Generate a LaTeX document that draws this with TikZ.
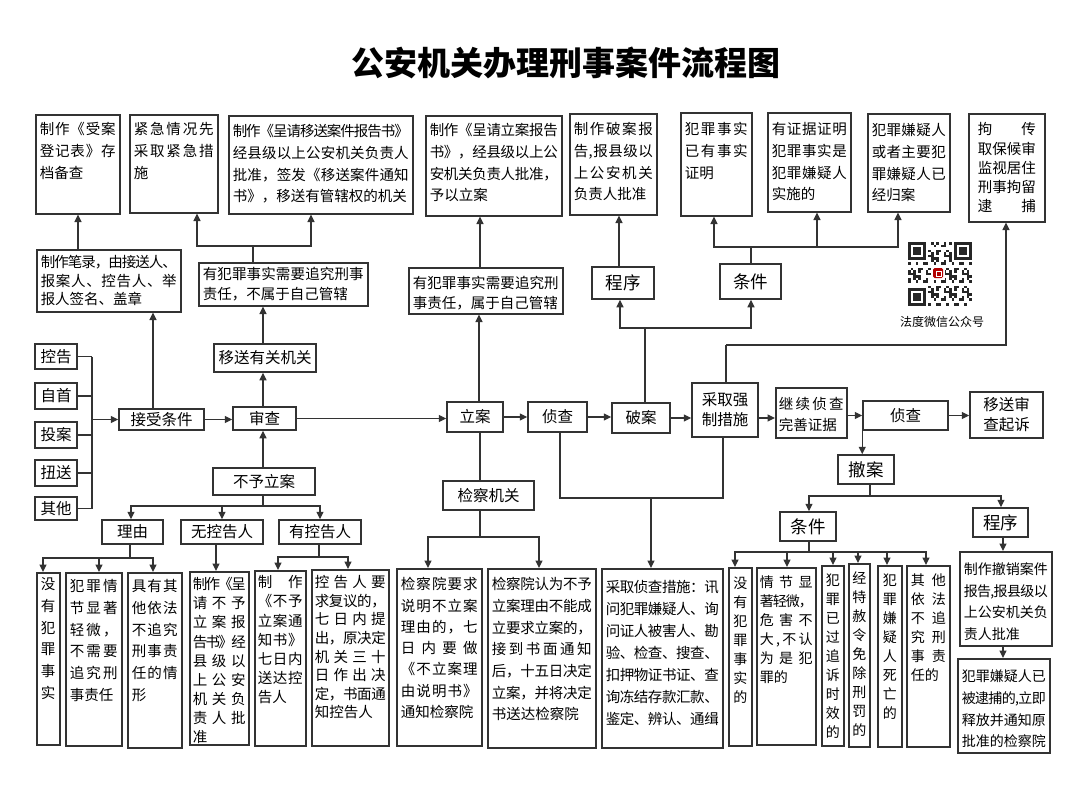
\documentclass[tikz,border=0pt]{standalone}
\usepackage{fontspec}
\setmainfont{Noto Sans CJK SC}
\usetikzlibrary{arrows.meta,calc}
\ExplSyntaxOn
\NewDocumentCommand \jl { m }
  {
    \mode_leave_vertical:
    \hbox_to_wd:nn { \linewidth }
      {
        \bool_set_true:N \l_tmpa_bool
        \tl_map_inline:nn { #1 }
          {
            \bool_if:NTF \l_tmpa_bool
              { \bool_set_false:N \l_tmpa_bool }
              { \skip_horizontal:n { 0pt plus 1fil minus 3pt } }
            ##1
          }
      }
  }
\ExplSyntaxOff
\def\tbpx{4}
\def\tbfb{20}
\newcommand\tb[7][]{%
  \pgfmathsetmacro\tbW{#5-#3}%
  \pgfmathsetmacro\tbH{#6-#4}%
  \pgfmathsetmacro\tbTW{\tbW-2*\tbpx}%
  \pgfmathsetmacro\tbTD{\tbH-\tbfb}%
  \node[tbox,minimum width=\tbW pt,minimum height=\tbH pt,text width=\tbTW pt,text height=\tbfb pt,text depth=\tbTD pt,#1] (#2) at (#3,#4) {#7};}
\newcommand\lb[7][]{%
  \pgfmathsetmacro\tbW{#5-#3}%
  \pgfmathsetmacro\tbH{#6-#4}%
  \node[lbox,minimum width=\tbW pt,minimum height=\tbH pt,#1] (#2) at ({(#3+#5)/2},{(#4+#6)/2}) {#7};}
\tikzset{
  bx/.style={draw=black!80,line width=1.5pt,inner sep=0pt},
  tbox/.style={bx,anchor=north west,align=left,font=\fontsize{14.5}{21.7}\selectfont},
  lbox/.style={bx,anchor=center,align=center,font=\fontsize{15.5}{20}\selectfont},
  big/.style={font=\fontsize{17.5}{20}\selectfont},
  narrow/.style={font=\fontsize{14}{19}\selectfont},
  ln/.style={draw=black!80,line width=1.2pt},
  arr/.style={ln,-{Triangle[length=7.5pt,width=7pt]}},
}
\begin{document}
\begin{tikzpicture}[x=1pt,y=-1pt]
\useasboundingbox[fill=white] (0,0) rectangle (1080,796);
\node[font=\bfseries\fontsize{33}{33}\selectfont] (title) at (566,63) {公安机关办理刑事案件流程图};
% ---------- top row ----------
\def\tbpx{4}\def\tbfb{20}
\tb{A}{35}{114}{119}{213}{\jl{制作《受案}\\\jl{登记表》存}\\档备查}
\tb{B}{129}{114}{217}{212}{\jl{紧急情况先}\\\jl{采取紧急措}\\施}
\def\tbfb{21}
\tb{C}{228}{115}{412}{213}{\jl{制作《呈请移送案件报告书》}\\\jl{经县级以上公安机关负责人}\\\jl{批准，签发《移送案件通知}\\书》，移送有管辖权的机关}
\def\tbfb{18}
\tb[font=\fontsize{14.5}{18.5}\selectfont]{D}{36}{249}{180}{311}{\jl{制作笔录，由接送人、}\\\jl{报案人、控告人、举}\\报人签名、盖章}
\def\tbfb{17}
\tb[font=\fontsize{14.5}{19.5}\selectfont]{E}{198}{262}{367}{305}{\jl{有犯罪事实需要追究刑事}\\责任，不属于自己管辖}
\def\tbfb{20}
\tb{F}{425}{115}{561}{215}{\jl{制作《呈请立案报告}\\\jl{书》，经县级以上公}\\\jl{安机关负责人批准，}\\予以立案}
\def\tbfb{21}
\tb{G}{569}{113}{656}{214}{\jl{制作破案报}\\\jl{告,报县级以}\\\jl{上公安机关}\\负责人批准}
\tb[font=\fontsize{14.5}{20}\selectfont]{H}{408}{267}{562}{313}{\jl{有犯罪事实需要追究刑}\\事责任，属于自己管辖}
\def\tbfb{22}
\tb{I}{680}{112}{751}{215}{\jl{犯罪事实}\\\jl{已有事实}\\证明}
\tb{J}{767}{112}{850}{211}{\jl{有证据证明}\\\jl{犯罪事实是}\\\jl{犯罪嫌疑人}\\实施的}
\tb{K}{867}{113}{949}{211}{\jl{犯罪嫌疑人}\\\jl{或者主要犯}\\\jl{罪嫌疑人已}\\经归案}
\def\tbpx{9}\def\tbfb{21}
\tb[font=\fontsize{14.5}{19.3}\selectfont]{L}{968}{113}{1044}{221}{\jl{拘传}\\\jl{取保候审}\\\jl{监视居住}\\\jl{刑事拘留}\\\jl{逮捕}}
\lb[big]{prog1}{592}{267}{654}{299}{程序}
\lb[big]{cond1}{720}{264}{781}{299}{条件}
% QR code
\begin{scope}[shift={(908,242)}]
  \def\qm{2.56}
  \foreach \i in {0,...,24} {
    \foreach \j in {0,...,24} {
      \pgfmathtruncatemacro\qs{(\i<8)*(\j<8)+(\i>16)*(\j<8)+(\i<8)*(\j>16)}
      \pgfmathtruncatemacro\qv{mod(\i*\i*7+\j*\j*3+\i*\j*5+\i*11+\j*13,7)}
      \ifnum\qs=0 \ifnum\qv<3 \fill[black!85] (\i*\qm,\j*\qm) rectangle ++(\qm,\qm); \fi\fi
    }
  }
  \foreach \ox/\oy in {0/0,18/0,0/18} {
    \fill[black!85] (\ox*\qm,\oy*\qm) rectangle ++(7*\qm,7*\qm);
    \fill[white] (\ox*\qm+\qm,\oy*\qm+\qm) rectangle ++(5*\qm,5*\qm);
    \fill[black!85] (\ox*\qm+2*\qm,\oy*\qm+2*\qm) rectangle ++(3*\qm,3*\qm);
  }
  \fill[white] (23,24) rectangle (37,38);
  \fill[red!70!black,rounded corners=1.5] (25,26) rectangle (35,36);
  \draw[white,line width=1pt] (28,29) rectangle (33,34);
\end{scope}
\node[font=\fontsize{12}{14}\selectfont] (qrtext) at (942,322) {法度微信公众号};
% ---------- middle row ----------
\lb{s1}{35}{344}{77}{369}{控告}
\lb{s2}{35}{383}{77}{409}{自首}
\lb{s3}{35}{422}{77}{448}{投案}
\lb{s4}{35}{460}{77}{486}{扭送}
\lb{s5}{35}{497}{77}{520}{其他}
\lb{jieshou}{119}{409}{204}{430}{接受条件}
\lb{shencha}{233}{407}{296}{430}{审查}
\lb{yisong}{214}{344}{316}{372}{移送有关机关}
\lb{buyu}{213}{468}{315}{495}{不予立案}
\lb{lian}{447}{402}{503}{432}{立案}
\lb{jcjg}{443}{481}{534}{510}{检察机关}
\lb{zc1}{528}{402}{587}{432}{侦查}
\lb{poan}{612}{403}{670}{433}{破案}
\lb{qz}{692}{383}{758}{437}{采取强\\制措施}
\def\tbpx{3}\def\tbfb{22}
\tb[font=\fontsize{14.5}{21}\selectfont]{jx}{775}{387}{846}{437}{\jl{继续侦查}\\完善证据}
\lb{zc2}{863}{401}{948}{430}{侦查}
\lb{ys}{970}{392}{1043}{438}{移送审\\查起诉}
\lb[big]{chean}{838}{455}{894}{484}{撤案}
% ---------- bottom row ----------
\lb{ly}{102}{520}{163}{544}{理由}
\lb{wk}{181}{520}{263}{544}{无控告人}
\lb{yk}{279}{520}{361}{544}{有控告人}
\lb[big]{cond2}{780}{512}{836}{541}{条件}
\lb[big]{prog2}{973}{508}{1028}{537}{程序}
\def\tbpx{1}\def\tbfb{17}
\tb[align=center]{b1}{36}{572}{59}{744}{没\\有\\犯\\罪\\事\\实}
\def\tbpx{4}\def\tbfb{19}
\tb{b2}{65}{572}{121}{745}{\jl{犯罪情}\\\jl{节显著}\\\jl{轻微，}\\\jl{不需要}\\\jl{追究刑}\\事责任}
\tb{b3}{127}{572}{181}{747}{\jl{具有其}\\\jl{他依法}\\\jl{不追究}\\\jl{刑事责}\\\jl{任的情}\\形}
\def\tbpx{3}\def\tbfb{18}
\tb[font=\fontsize{14.5}{19.1}\selectfont]{b4}{189}{571}{248}{744}{\jl{制作《呈}\\\jl{请不予}\\\jl{立案报}\\\jl{告书》经}\\\jl{县级以}\\\jl{上公安}\\\jl{机关负}\\\jl{责人批}\\准}
\def\tbfb{17}
\tb[font=\fontsize{14.5}{19.2}\selectfont]{b5}{254}{570}{305}{745}{\jl{制作}\\\jl{《不予}\\\jl{立案通}\\\jl{知书》}\\\jl{七日内}\\\jl{送达控}\\告人}
\def\tbfb{18}
\tb[font=\fontsize{14.5}{18.6}\selectfont]{b6}{311}{569}{388}{745}{\jl{控告人要}\\\jl{求复议的，}\\\jl{七日内提}\\\jl{出，原决定}\\\jl{机关三十}\\\jl{日作出决}\\\jl{定，书面通}\\知控告人}
\def\tbpx{4}\def\tbfb{21}
\tb[font=\fontsize{14.5}{21.3}\selectfont]{b7}{396}{568}{481}{745}{\jl{检察院要求}\\\jl{说明不立案}\\\jl{理由的，七}\\\jl{日内要做}\\\jl{《不立案理}\\\jl{由说明书》}\\通知检察院}
\tb{b8}{487}{568}{595}{747}{\jl{检察院认为不予}\\\jl{立案理由不能成}\\\jl{立要求立案的，}\\\jl{接到书面通知}\\\jl{后，十五日决定}\\\jl{立案，并将决定}\\书送达检察院}
\def\tbfb{24}
\tb[font=\fontsize{14.5}{21.9}\selectfont]{b9}{601}{568}{722}{747}{\jl{采取侦查措施：讯}\\\jl{问犯罪嫌疑人、询}\\\jl{问证人被害人、勘}\\\jl{验、检查、搜查、}\\\jl{扣押物证书证、查}\\\jl{询冻结存款汇款、}\\\jl{鉴定、辨认、通缉}}
\def\tbpx{1}\def\tbfb{21}
\tb[narrow,align=center]{c1}{728}{567}{751}{745}{没\\有\\犯\\罪\\事\\实\\的}
\def\tbpx{3}\def\tbfb{20}
\tb[narrow]{c2}{756}{567}{815}{744}{\jl{情节显}\\\jl{著轻微，}\\\jl{危害不}\\\jl{大,不认}\\\jl{为是犯}\\罪的}
\def\tbpx{1}
\tb[narrow,align=center]{c3}{821}{565}{843}{745}{犯\\罪\\已\\过\\追\\诉\\时\\效\\的}
\tb[narrow,align=center]{c4}{848}{563}{869}{746}{经\\特\\赦\\令\\免\\除\\刑\\罚\\的}
\tb[narrow,align=center]{c5}{877}{565}{901}{746}{犯\\罪\\嫌\\疑\\人\\死\\亡\\的}
\def\tbpx{4}
\tb[narrow]{c6}{906}{565}{949}{746}{\jl{其他}\\\jl{依法}\\\jl{不追}\\\jl{究刑}\\\jl{事责}\\任的}
\def\tbfb{23}
\tb[font=\fontsize{14}{21.5}\selectfont]{c7}{959}{551}{1051}{645}{\jl{制作撤销案件}\\\jl{报告,报县级以}\\\jl{上公安机关负}\\责人批准}
\tb[font=\fontsize{14}{21.7}\selectfont]{c8}{957}{658}{1049}{752}{\jl{犯罪嫌疑人已}\\\jl{被逮捕的,立即}\\\jl{释放并通知原}\\批准的检察院}
% ---------- connectors ----------
\foreach \s in {s1,s2,s3,s4,s5} \draw[ln] (\s.east) -- (\s.east -| 92,0);
\draw[ln] (s1.east -| 92,0) -- (s5.east -| 92,0);
\draw[arr] (jieshou.west -| 92,0) -- (jieshou.west);
\draw[arr] (jieshou.north -| 153,0) -- (D.south -| 153,0);
\draw[arr] (D.north -| 78,0) -- (A.south -| 78,0);
\draw[arr] (jieshou.east) -- (jieshou.east -| shencha.west);
\draw[arr] (shencha.north -| 263,0) -- (yisong.south -| 263,0);
\draw[arr] (yisong.north -| 263,0) -- (E.south -| 263,0);
\coordinate (eb) at (253,246);
\draw[ln] (E.north -| eb) -- (eb);
\draw[arr] (eb) -| (B.south -| 197,0);
\draw[arr] (eb) -| (C.south -| 311,0);
\draw[arr] (buyu.north -| 263,0) -- (shencha.south -| 263,0);
\coordinate (bb) at (263,506);
\draw[ln] (buyu.south -| bb) -- (bb);
\draw[arr] (bb) -| (ly.north -| 131,0);
\draw[arr] (bb) -| (wk.north -| 222,0);
\draw[arr] (bb) -| (yk.north -| 320,0);
\coordinate (lyb) at (130,558);
\draw[ln] (ly.south -| lyb) -- (lyb);
\draw[arr] (lyb) -| (b1.north -| 43,0);
\draw[arr] (lyb) -| (b2.north -| 99,0);
\draw[arr] (lyb) -| (b3.north -| 153,0);
\draw[arr] (wk.south -| 216,0) -- (b4.north -| 216,0);
\coordinate (kb) at (319,557);
\draw[ln] (yk.south -| kb) -- (kb);
\draw[arr] (kb) -| (b5.north -| 278,0);
\draw[arr] (kb) -| (b6.north -| 348,0);
\draw[arr] (shencha.east) -- (shencha.east -| lian.west);
\draw[arr] (lian.north -| 479,0) -- (H.south -| 479,0);
\draw[arr] (H.north -| 480,0) -- (F.south -| 480,0);
\draw[ln] (lian.south -| 480,0) -- (jcjg.north -| 480,0);
\coordinate (jb) at (480,537);
\draw[ln] (jcjg.south -| jb) -- (jb);
\draw[arr] (jb) -| (b7.north -| 428,0);
\draw[arr] (jb) -| (b8.north -| 539,0);
\draw[arr] (lian.east) -- (lian.east -| zc1.west);
\draw[arr] (zc1.east) -- (zc1.east -| poan.west);
\coordinate (pb) at (645,328);
\draw[ln] (poan.north -| pb) -- (pb);
\draw[arr] (pb) -| (prog1.south -| 620,0);
\draw[arr] (pb) -| (cond1.south -| 751,0);
\draw[arr] (prog1.north -| 619,0) -- (G.south -| 619,0);
\coordinate (cb) at (751,247);
\draw[ln] (cond1.north -| cb) -- (cb);
\draw[arr] (cb) -| (I.south -| 714,0);
\draw[arr] (cb) -| (J.south -| 817,0);
\draw[arr] (cb) -| (K.south -| 898,0);
\draw[arr] (poan.east) -- (poan.east -| qz.west);
\coordinate (qb) at (726,345);
\draw[ln] (qz.north -| qb) -- (qb);
\draw[arr] (qb) -| (L.south -| 1006,0);
\coordinate (j1) at (723,498);
\coordinate (j2) at (560,498);
\coordinate (j3) at (651,498);
\draw[ln] (qz.south -| j1) -- (j1) -- (j2) -- (zc1.south -| j2);
\draw[arr] (j3) -- (b9.north -| j3);
\draw[arr] (qz.east |- poan.east) -- (jx.west |- poan.east);
\draw[arr] (jx.east |- zc2.west) -- (zc2.west);
\draw[arr] (zc2.east) -- (zc2.east -| ys.west);
\draw[arr] (zc2.south west) -- (chean.north -| zc2.south west);
\coordinate (chb) at (870,496);
\draw[ln] (chean.south -| chb) -- (chb);
\draw[arr] (chb) -| (cond2.north -| 809,0);
\draw[arr] (chb) -| (prog2.north -| 1001,0);
\coordinate (c2b) at (809,552);
\draw[ln] (cond2.south -| c2b) -- (c2b);
\foreach \n/\x in {c1/735,c2/787,c3/833,c4/858,c5/887,c6/926} \draw[arr] (c2b) -| (\n.north -| \x,0);
\draw[arr] (prog2.south -| 1003,0) -- (c7.north -| 1003,0);
\draw[arr] (c7.south -| 1003,0) -- (c8.north -| 1003,0);
\end{tikzpicture}
\end{document}
